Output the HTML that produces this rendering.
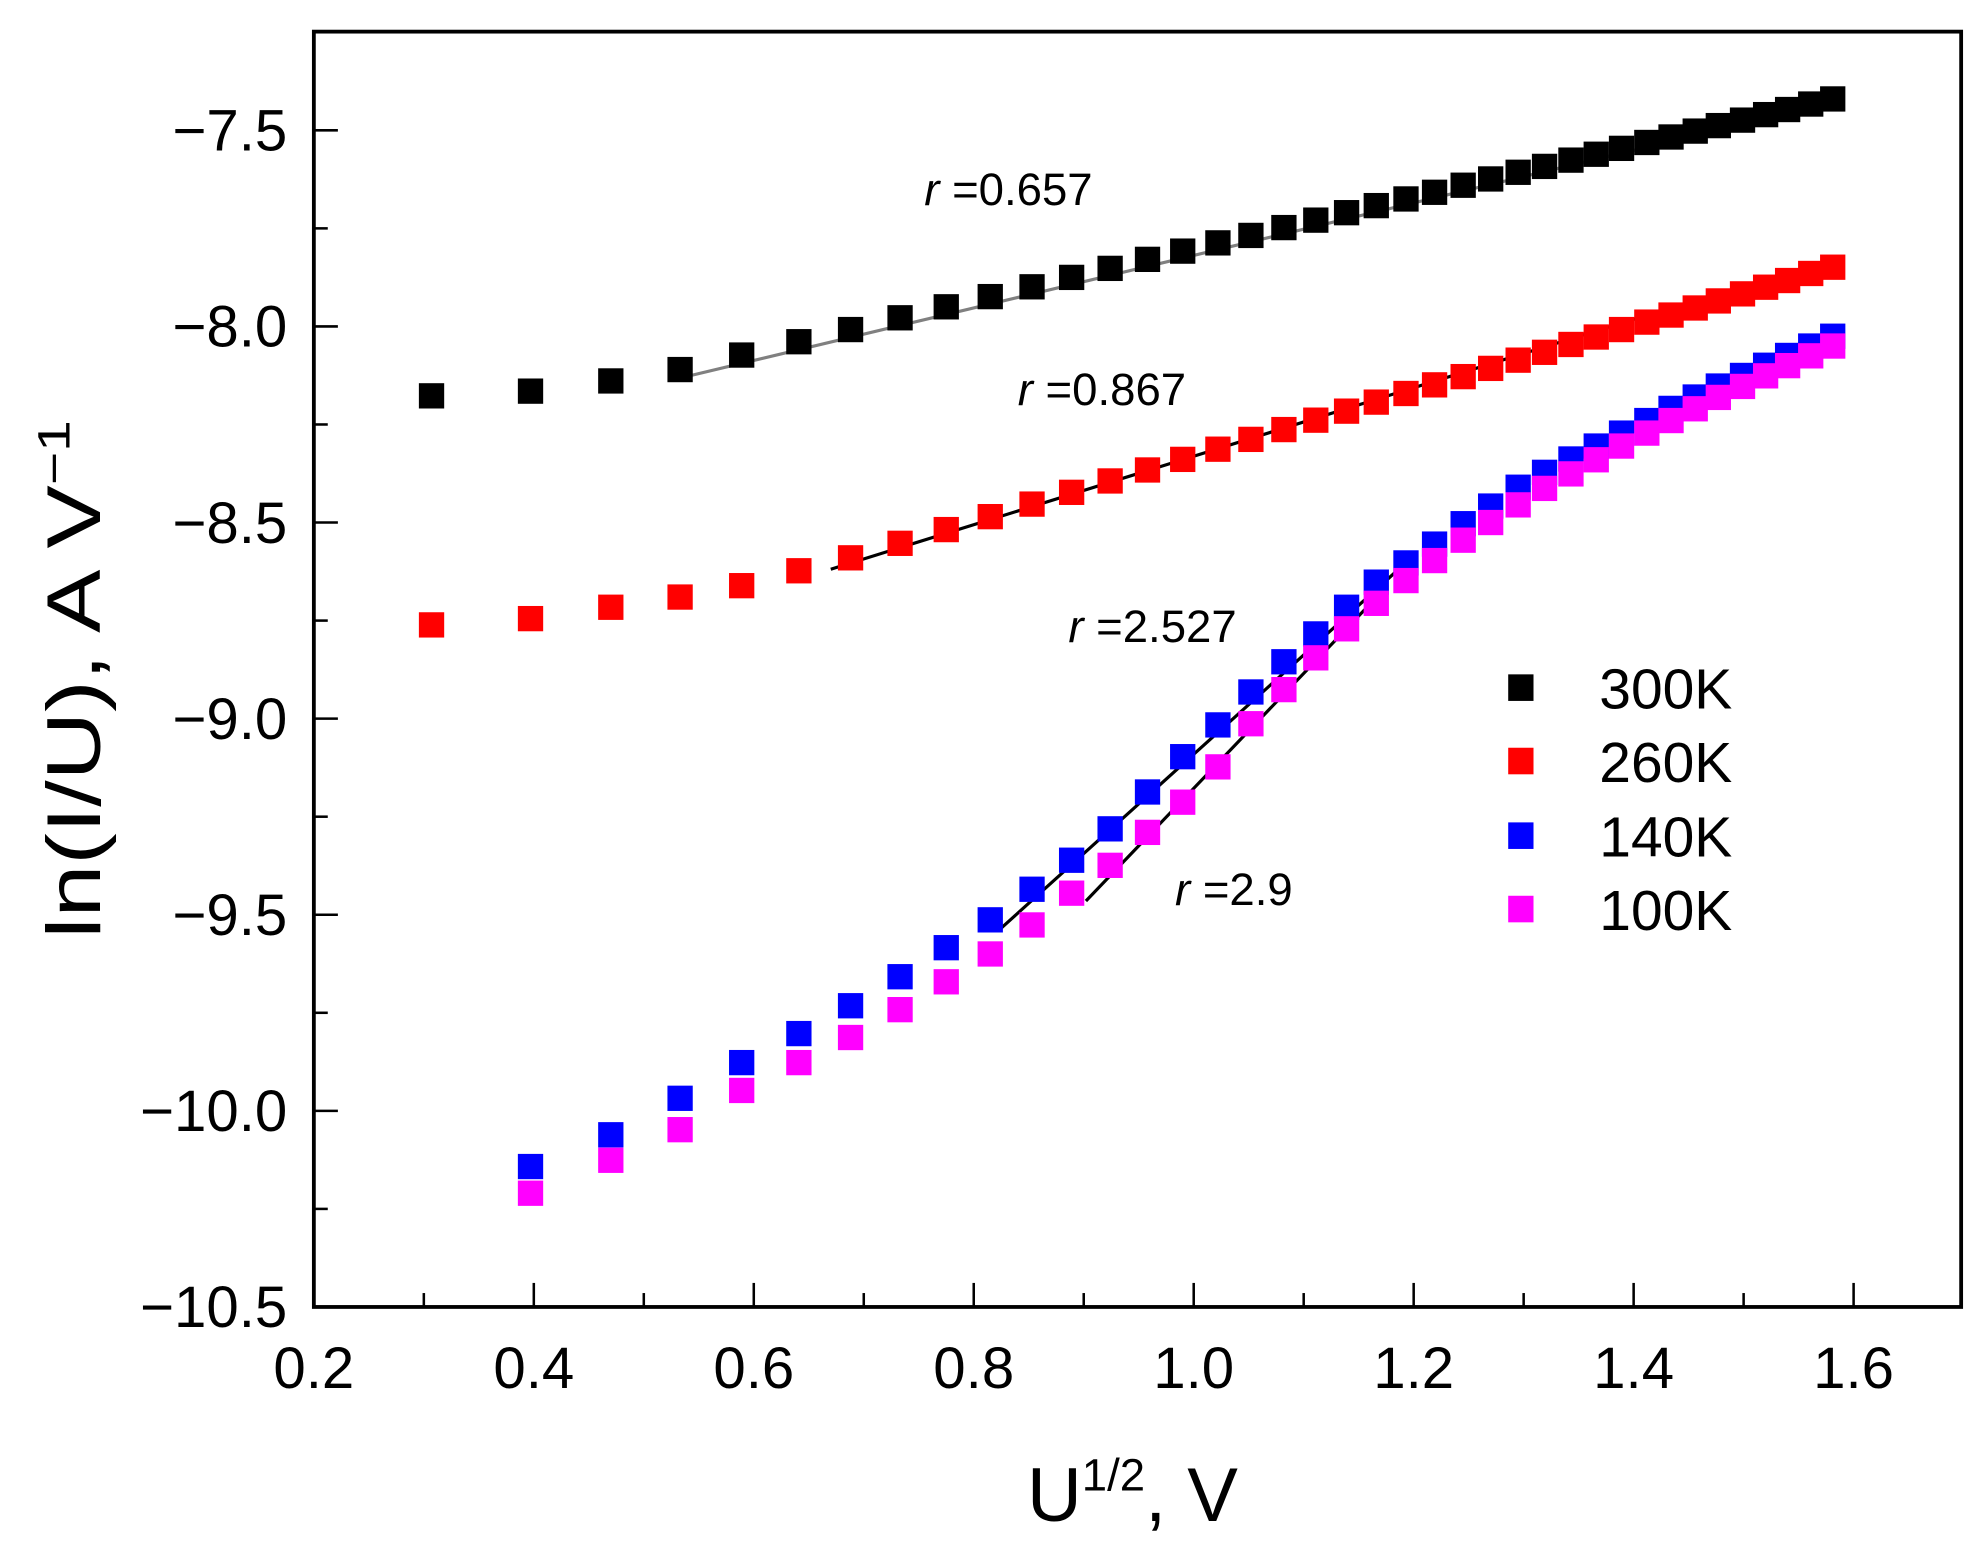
<!DOCTYPE html>
<html><head><meta charset="utf-8"><style>
html,body{margin:0;padding:0;background:#fff}
svg{display:block}
text{font-family:"Liberation Sans",Arial,sans-serif;fill:#000}
</style></head><body>
<svg id="chart" width="1984" height="1560" viewBox="0 0 1568 1233" xmlns="http://www.w3.org/2000/svg">
<g id="plot"></g>
</svg>
<script>
const xs = [0.307,0.397,0.470,0.533,0.589,0.641,0.688,0.733,0.775,0.815,0.853,0.889,0.924,0.958,0.990,1.022,1.052,1.082,1.111,1.139,1.166,1.193,1.219,1.245,1.270,1.295,1.319,1.343,1.366,1.389,1.412,1.434,1.456,1.477,1.499,1.520,1.540,1.561,1.581];
const y300 = [-8.177,-8.165,-8.139,-8.110,-8.073,-8.039,-8.008,-7.978,-7.950,-7.924,-7.899,-7.875,-7.852,-7.829,-7.808,-7.787,-7.768,-7.748,-7.729,-7.710,-7.692,-7.675,-7.658,-7.640,-7.624,-7.607,-7.592,-7.576,-7.561,-7.546,-7.531,-7.517,-7.502,-7.488,-7.474,-7.460,-7.447,-7.433,-7.420];
const y260 = [-8.761,-8.745,-8.716,-8.690,-8.661,-8.623,-8.590,-8.553,-8.518,-8.485,-8.453,-8.423,-8.394,-8.366,-8.339,-8.313,-8.288,-8.263,-8.239,-8.216,-8.193,-8.171,-8.149,-8.128,-8.107,-8.086,-8.066,-8.046,-8.027,-8.008,-7.989,-7.971,-7.953,-7.935,-7.917,-7.900,-7.883,-7.865,-7.849];
const y140 = [null,-10.142,-10.061,-9.968,-9.877,-9.803,-9.732,-9.658,-9.584,-9.513,-9.435,-9.361,-9.281,-9.187,-9.097,-9.016,-8.932,-8.855,-8.784,-8.716,-8.652,-8.603,-8.555,-8.503,-8.458,-8.410,-8.372,-8.338,-8.305,-8.272,-8.240,-8.209,-8.180,-8.152,-8.125,-8.099,-8.074,-8.050,-8.025];
const y100 = [null,-10.210,-10.126,-10.048,-9.948,-9.877,-9.813,-9.742,-9.671,-9.600,-9.526,-9.445,-9.374,-9.290,-9.213,-9.123,-9.013,-8.926,-8.845,-8.771,-8.706,-8.648,-8.597,-8.545,-8.500,-8.455,-8.413,-8.376,-8.340,-8.305,-8.272,-8.240,-8.210,-8.181,-8.153,-8.126,-8.100,-8.075,-8.050];
const seriesNames = ["300K","260K","140K","100K"];
const seriesColors = ["#000000","#ff0000","#0000ff","#ff00ff"];
const xTicks = [0.2,0.4,0.6,0.8,1.0,1.2,1.4,1.6];
const xTickLabels = ["0.2","0.4","0.6","0.8","1.0","1.2","1.4","1.6"];
const yTicks = [-7.5,-8.0,-8.5,-9.0,-9.5,-10.0,-10.5];
const yTickLabels = ["\u22127.5","\u22128.0","\u22128.5","\u22129.0","\u22129.5","\u221210.0","\u221210.5"];
const fitX1 = [0.528,0.670,0.823,0.902];
const fitY1 = [-8.135,-8.619,-9.539,-9.465];
const fitX2 = [1.548,1.402,1.199,1.163];
const fitY2 = [-7.452,-7.980,-8.587,-8.700];
const fitLabels = ["0.657","0.867","2.527","2.9"];
const fitLabelX = [0.755,0.84,0.886,0.983];
const fitLabelY = [-7.69,-8.2,-8.805,-9.475];

const NS="http://www.w3.org/2000/svg";
const L=248,R=1550,T=25,B=1033;
const X=v=>248+(v-0.2)*(1465-248)/1.4;
const Y=v=>103+(-7.5-v)*(1033-103)/3.0;
const g=document.getElementById('plot');
function mk(tag,attrs,parent){const e=document.createElementNS(NS,tag);for(const k in attrs)e.setAttribute(k,attrs[k]);(parent||g).appendChild(e);return e;}

const ticksG=mk('g',{});


for(let i=0;i<=14;i++){const v=0.2+i*0.1;const major=i%2===0;
 mk('line',{x1:X(v),x2:X(v),y1:B,y2:B-(major?19:11),stroke:'#000','stroke-width':2},ticksG);}
for(let i=0;i<=12;i++){const v=-7.5-i*0.25;const major=i%2===0;
 mk('line',{x1:L,x2:L+(major?19:11),y1:Y(v),y2:Y(v),stroke:'#000','stroke-width':2},ticksG);}
xTicks.forEach((v,i)=>{const t=mk('text',{x:X(v),y:1097,'text-anchor':'middle','font-size':46});t.textContent=xTickLabels[i];
 
 });
yTicks.forEach((v,i)=>{const t=mk('text',{x:227,y:Y(v)+16,'text-anchor':'end','font-size':46});t.textContent=yTickLabels[i];
 
 });

const fitColors=['#808080','#000','#000','#000'];
for(let i=0;i<fitX1.length;i++){const l=mk('line',{x1:X(fitX1[i]),y1:Y(fitY1[i]),x2:X(fitX2[i]),y2:Y(fitY2[i]),stroke:fitColors[i],'stroke-width':2.5});
 
 }

const all=[y300,y260,y140,y100];
const S=20;
all.forEach((ys,si)=>{const sg=mk('g',{fill:seriesColors[si]});
 
 
 ys.forEach((v,j)=>{if(v===null)return;const r=mk('rect',{x:X(xs[j])-S/2,y:Y(v)-S/2,width:S,height:S},sg);
  
  });});

fitLabels.forEach((s,i)=>{const t=mk('text',{x:X(fitLabelX[i]),y:Y(fitLabelY[i]),'font-size':36});
 t.innerHTML='<tspan font-style="italic">r</tspan> =' + s;
 
 });

const lg=mk('g',{});


const legY=[543,601,660,718];
seriesNames.forEach((n,i)=>{const e=mk('g',{},lg);
 
 
 mk('rect',{x:1192,y:legY[i]-10,width:20,height:21,fill:seriesColors[i]},e);
 const t=mk('text',{x:1264,y:legY[i]+17,'font-size':45},e);t.textContent=n;});

const fr=mk('rect',{x:L,y:T,width:R-L,height:B-T,fill:'none',stroke:'#000','stroke-width':3});



const xt=mk('text',{x:895,y:1202,'text-anchor':'middle','font-size':60});
xt.innerHTML='U<tspan dy="-24" font-size="36">1/2</tspan><tspan dy="24">, V</tspan>';


const yt=mk('text',{x:0,y:0,'text-anchor':'middle','font-size':60,transform:'translate(79,537) rotate(-90) scale(1.25,1)'});
yt.innerHTML='ln(I/U), A V<tspan dy="-24" font-size="36">\u22121</tspan>';


</script>
</body></html>
